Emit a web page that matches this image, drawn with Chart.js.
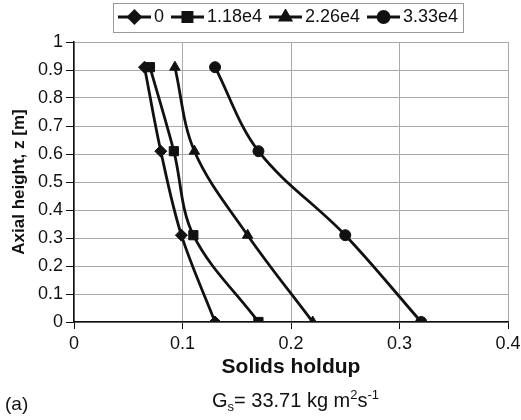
<!DOCTYPE html>
<html>
<head>
<meta charset="utf-8">
<script src="https://cdn.jsdelivr.net/npm/chart.js@4/dist/chart.umd.min.js"></script>
<style>
  body { margin:0; background:#fff; }
  #wrap { position:relative; width:521px; height:420px; font-family:"Liberation Sans", Arial, sans-serif; }
  #c { position:absolute; left:0; top:0; }
  .note { position:absolute; font-size:20px; color:#111; white-space:nowrap; }
  .sm { font-size:13px; position:relative; }
</style>
</head>
<body>
<div id="wrap">
  <canvas id="c" width="521" height="420"></canvas>
  <div class="note" style="left:212px;top:389px">G<span class="sm" style="top:4px">s</span>= 33.71 kg m<span class="sm" style="top:-8px">2</span>s<span class="sm" style="top:-8px">-1</span></div>
  <div class="note" style="left:5px;top:393px;font-size:19px">(a)</div>
</div>
<script>
// ── DATA ───────────────────────────────────────────────
const heights     = [0, 0.31, 0.61, 0.91];          // axial height z [m]
const seriesNames = ["0", "1.18e4", "2.26e4", "3.33e4"];
const holdup0     = [0.13, 0.099, 0.080, 0.065];
const holdup118   = [0.17, 0.110, 0.092, 0.070];
const holdup226   = [0.22, 0.160, 0.111, 0.093];
const holdup333   = [0.32, 0.250, 0.170, 0.130];
const xTicks      = [0, 0.1, 0.2, 0.3, 0.4];
const yTicks      = [0, 0.1, 0.2, 0.3, 0.4, 0.5, 0.6, 0.7, 0.8, 0.9, 1];

// ── STYLE ──────────────────────────────────────────────
const INK   = "#111";
const GRID  = "#a9a9a9";
const FONT  = "'Liberation Sans', Arial, sans-serif";
const marks = [
  { style:"rectRot",  r:6   },
  { style:"rect",     r:6.5 },
  { style:"triangle", r:6   },
  { style:"circle",   r:5.5 }
];
const fmt = v => String(Math.round(v * 10) / 10);

// legend icon: short line with the marker on it
function legendIcon(m) {
  const cv = document.createElement("canvas");
  cv.width = 33; cv.height = 16;
  const ctx = cv.getContext("2d");
  ctx.strokeStyle = INK; ctx.lineWidth = 2.8;
  ctx.beginPath(); ctx.moveTo(0, 8); ctx.lineTo(33, 8); ctx.stroke();
  ctx.fillStyle = INK;
  Chart.helpers.drawPoint(ctx, { pointStyle:m.style, radius:m.r, borderWidth:1, rotation:0 }, 16.5, 8);
  return cv;
}

const allSeries = [holdup0, holdup118, holdup226, holdup333];
const datasets = allSeries.map((xs, i) => ({
  label: seriesNames[i],
  data: xs.map((x, k) => ({ x, y: heights[k] })),
  showLine: true,
  tension: 0.35,
  borderColor: INK,
  borderWidth: 2.8,
  backgroundColor: INK,
  pointStyle: marks[i].style,
  pointRadius: marks[i].r,
  pointBorderWidth: 1,
  pointBackgroundColor: INK,
  pointBorderColor: INK,
  icon: legendIcon(marks[i])
}));

// box round the legend
const legendBox = {
  id: "legendBox",
  afterDraw(chart) {
    const hb = chart.legend.legendHitBoxes;
    if (!hb || !hb.length) return;
    const first = hb[0], last = hb[hb.length - 1];
    const l = first.left - 11, r = last.left + last.width + 5;
    const t = first.top - 5.5, b = first.top + first.height + 5.5;
    const ctx = chart.ctx;
    ctx.save();
    ctx.strokeStyle = "#999"; ctx.lineWidth = 1;
    ctx.strokeRect(Math.round(l) + 0.5, Math.round(t) + 0.5, Math.round(r - l), Math.round(b - t));
    ctx.restore();
  }
};

new Chart(document.getElementById("c"), {
  type: "scatter",
  data: { datasets },
  plugins: [legendBox],
  options: {
    responsive: false,
    animation: false,
    layout: { padding: { left: 0, right: 0, top: -5, bottom: 36 } },
    plugins: {
      legend: {
        display: true,
        position: "top",
        fullSize: false,
        labels: {
          usePointStyle: true,
          pointStyleWidth: 21,
          padding: 13,
          color: INK,
          font: { family: FONT, size: 18 },
          generateLabels(chart) {
            return chart.data.datasets.map((ds, i) => ({
              text: ds.label, pointStyle: ds.icon, fontColor: INK,
              strokeStyle: INK, fillStyle: INK, lineWidth: 0, datasetIndex: i
            }));
          }
        }
      },
      // thin spacer between legend and plot
      title: { display: true, text: "", weight: 500, padding: { top: 5, bottom: 0 },
               font: { size: 1, lineHeight: 1 } },
      tooltip: { enabled: false }
    },
    scales: {
      x: {
        type: "linear", min: 0, max: 0.4,
        afterBuildTicks: s => { s.ticks = xTicks.map(v => ({ value: v })); },
        afterFit: s => { s.height = 62; s.paddingRight = 13; },
        grid: { color: GRID, lineWidth: 1, tickColor: INK, tickLength: 7 },
        border: { color: INK, width: 1.5 },
        ticks: { color: INK, padding: 4, font: { family: FONT, size: 18 }, callback: fmt },
        title: { display: true, text: "Solids holdup", color: INK, padding: { top: 2, bottom: 4 },
                 font: { family: FONT, size: 21, weight: "bold" } }
      },
      y: {
        type: "linear", min: 0, max: 1,
        afterBuildTicks: s => { s.ticks = yTicks.map(v => ({ value: v })); },
        afterFit: s => { s.width = 74; },
        grid: { color: GRID, lineWidth: 1, tickColor: INK, tickLength: 8 },
        border: { color: INK, width: 1.5 },
        ticks: { color: INK, padding: 3, font: { family: FONT, size: 18 }, callback: fmt },
        title: { display: true, text: "Axial height, z [m]", color: INK, padding: { top: 9, bottom: 0 },
                 font: { family: FONT, size: 17, weight: "bold" } }
      }
    }
  }
});
</script>
</body>
</html>
